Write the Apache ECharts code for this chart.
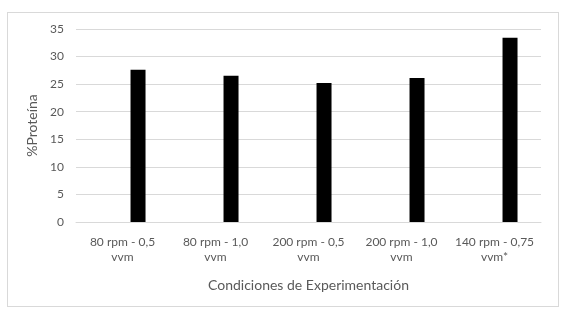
<!DOCTYPE html>
<html>
<head>
<meta charset="utf-8">
<script src="https://cdn.jsdelivr.net/npm/echarts@6/dist/echarts.min.js"></script>
<style>
  html, body { margin: 0; padding: 0; background: #fff; }
  #frame { position: absolute; left: 7px; top: 12px; width: 550px; height: 293px; border: 1px solid #d9d9d9; }
  #chart { position: absolute; left: 0; top: 0; width: 570px; height: 311px; }
</style>
</head>
<body>
<div id="frame"></div>
<div id="chart"></div>
<script>
// datos del gráfico
const categories = ['80 rpm - 0,5\nvvm', '80 rpm - 1,0\nvvm', '200 rpm - 0,5\nvvm', '200 rpm - 1,0\nvvm', '140 rpm - 0,75\nvvm*'];
// serie vacía (a la izquierda en el original)
const emptySeries = [null, null, null, null, null];
const proteina = [27.6, 26.5, 25.2, 26.1, 33.4];
const yTicks = { min: 0, max: 35, interval: 5 };

const textColor = '#595959';
const lineColor = '#d9d9d9';
const font = 'Lato, "Open Sans", sans-serif';

const chart = echarts.init(document.getElementById('chart'), null, { renderer: 'canvas' });

chart.setOption({
  backgroundColor: 'transparent',
  animation: false,
  grid: { left: 76, top: 29, width: 465, height: 193 },
  xAxis: {
    type: 'category',
    data: categories,
    name: 'Condiciones de Experimentación',
    nameLocation: 'middle',
    nameGap: 56,
    nameTextStyle: { color: textColor, fontSize: 14, fontFamily: font },
    axisLine: { lineStyle: { color: lineColor } },
    axisTick: { show: false },
    axisLabel: { color: textColor, fontSize: 12, fontFamily: font, lineHeight: 15, margin: 13, interval: 0 }
  },
  yAxis: {
    type: 'value',
    min: yTicks.min,
    max: yTicks.max,
    interval: yTicks.interval,
    name: '%Proteína',
    nameLocation: 'middle',
    nameGap: 28,
    nameTextStyle: { color: textColor, fontSize: 14, fontFamily: font },
    axisLine: { show: false },
    axisTick: { show: false },
    axisLabel: { color: textColor, fontSize: 12, fontFamily: font, margin: 12 },
    splitLine: { lineStyle: { color: lineColor } }
  },
  series: [
    { name: 'vacía', type: 'bar', data: emptySeries, barWidth: 15, barGap: '107%' },
    { name: '%Proteína', type: 'bar', data: proteina, barWidth: 15, itemStyle: { color: '#000' } }
  ]
});
</script>
</body>
</html>
